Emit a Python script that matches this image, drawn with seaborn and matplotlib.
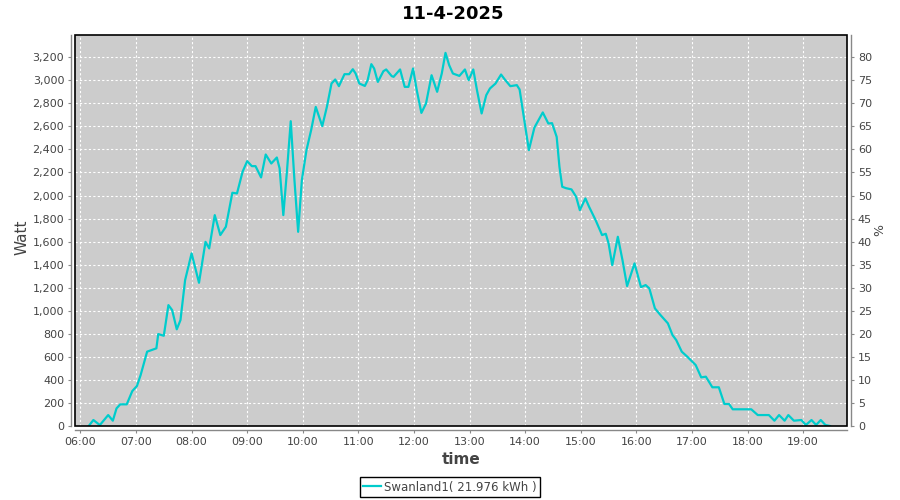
import matplotlib
matplotlib.use("Agg")
import matplotlib.pyplot as plt
import matplotlib.dates as mdates
from matplotlib.patches import Rectangle
from matplotlib.ticker import FuncFormatter, MultipleLocator
import seaborn as sns
import pandas as pd

day = "2025-04-11"
times = ["06:09", "06:14", "06:21", "06:30", "06:35", "06:39", "06:43", "06:50", "06:56", "07:01",
         "07:05", "07:12", "07:17", "07:22", "07:24", "07:30", "07:35", "07:39", "07:44", "07:48",
         "07:53", "08:00", "08:08", "08:15", "08:19", "08:25", "08:31", "08:37", "08:44", "08:49",
         "08:55", "09:00", "09:05", "09:09", "09:15", "09:20", "09:26", "09:32", "09:35", "09:39",
         "09:43", "09:47", "09:51", "09:55", "09:59", "10:04", "10:09", "10:14", "10:21", "10:26",
         "10:31", "10:35", "10:39", "10:45", "10:50", "10:54", "10:57", "11:01", "11:07", "11:10",
         "11:14", "11:17", "11:21", "11:27", "11:30", "11:36", "11:38", "11:45", "11:50", "11:54",
         "11:59", "12:03", "12:08", "12:13", "12:19", "12:25", "12:30", "12:34", "12:38", "12:42",
         "12:49", "12:55", "12:59", "13:04", "13:08", "13:13", "13:18", "13:22", "13:28", "13:34",
         "13:38", "13:44", "13:51", "13:54", "13:58", "14:04", "14:10", "14:19", "14:25", "14:29",
         "14:34", "14:37", "14:40", "14:44", "14:50", "14:55", "14:59", "15:05", "15:09", "15:16",
         "15:23", "15:27", "15:30", "15:34", "15:40", "15:45", "15:50", "15:58", "16:05", "16:10",
         "16:14", "16:20", "16:26", "16:34", "16:39", "16:43", "16:49", "16:55", "17:04", "17:10",
         "17:15", "17:22", "17:29", "17:35", "17:40", "17:44", "18:04", "18:11", "18:23", "18:29",
         "18:34", "18:40", "18:44", "18:50", "18:58", "19:03", "19:09", "19:14", "19:19", "19:24",
         "19:29"]
watt = [0, 52, 8, 95, 46, 153, 188, 188, 303, 347,
        442, 645, 659, 674, 798, 783, 1049, 1006, 839, 919,
        1266, 1498, 1243, 1598, 1541, 1830, 1657, 1729, 2024, 2018,
        2206, 2298, 2255, 2255, 2157, 2356, 2278, 2330, 2235, 1830,
        2220, 2645, 2134, 1685, 2134, 2394, 2567, 2769, 2602, 2769,
        2972, 3007, 2949, 3053, 3053, 3096, 3059, 2972, 2951, 3001,
        3140, 3102, 2986, 3079, 3094, 3036, 3030, 3094, 2943, 2943,
        3102, 2914, 2717, 2799, 3044, 2900, 3059, 3238, 3131, 3059,
        3038, 3094, 3001, 3094, 2914, 2712, 2871, 2929, 2972, 3050,
        3007, 2949, 2958, 2920, 2712, 2394, 2590, 2721, 2625, 2628,
        2509, 2249, 2076, 2064, 2053, 1989, 1873, 1975, 1902, 1787,
        1657, 1668, 1585, 1396, 1642, 1440, 1214, 1411, 1205, 1223,
        1194, 1021, 963, 891, 789, 746, 645, 601, 529, 422,
        428, 336, 336, 191, 191, 145, 145, 95, 95, 46,
        95, 46, 95, 46, 52, 9, 52, 9, 52, 9,
        0]
series_name = "Swanland1( 21.976 kWh )"

df = pd.DataFrame({"time": pd.to_datetime([day + " " + t for t in times]), "watt": watt})

grey = "#444444"
fig, ax = plt.subplots(figsize=(9, 5), dpi=100)
fig.subplots_adjust(left=75.3 / 900, right=846.7 / 900, top=1 - 35 / 500, bottom=1 - 426 / 500)
ax.set_facecolor("#cccccc")

sns.lineplot(data=df, x="time", y="watt", ax=ax, color="#00cccc", linewidth=1.6, label=series_name)

ax.set_xlim(pd.Timestamp(day + " 05:54:30"), pd.Timestamp(day + " 19:47:00"))
ax.set_ylim(0, 3393)
ax.xaxis.set_major_locator(mdates.HourLocator())
ax.xaxis.set_major_formatter(mdates.DateFormatter("%H:%M"))
ax.yaxis.set_major_locator(MultipleLocator(200))
ax.yaxis.set_major_formatter(FuncFormatter(lambda v, p: f"{int(v):,}"))
ax.grid(True, color="white", linestyle=(0, (2, 2)), linewidth=0.8)
ax.set_axisbelow(True)
ax.set_xlabel("")
ax.set_ylabel("")

ax2 = ax.twinx()
ax2.set_ylim(0, 3393 / 40)
ax2.yaxis.set_major_locator(MultipleLocator(5))

for a in (ax, ax2):
    for s in a.spines.values():
        s.set_visible(False)
    a.tick_params(colors="#888888", labelcolor=grey, labelsize=8, length=2.5, width=0.8, pad=2.5)
for side, a in (("left", ax), ("bottom", ax), ("right", ax2)):
    sp = a.spines[side]
    sp.set_visible(True)
    sp.set_position(("outward", 3))
    sp.set_color("#888888")
    sp.set_linewidth(1)

ax.add_patch(Rectangle((0, 0), 1, 1, transform=ax.transAxes, fill=False,
                       edgecolor="black", linewidth=1.2, clip_on=False, zorder=10))

fig.text(0.503, 1 - 14 / 500, "11-4-2025", ha="center", va="center", fontsize=13, fontweight="bold")
fig.text(22 / 900, 1 - 237 / 500, "Watt", rotation=90, ha="center", va="center", fontsize=11, color=grey)
fig.text(461 / 900, 1 - 460 / 500, "time", ha="center", va="center", fontsize=11, fontweight="bold", color=grey)
fig.text(880 / 900, 1 - 230 / 500, "%", rotation=90, ha="center", va="center", fontsize=9, color=grey)

leg = ax.legend(loc="center", bbox_to_anchor=(0.5, 1 - 487 / 500), bbox_transform=fig.transFigure,
                fancybox=False, edgecolor="black", framealpha=1, fontsize=8.5, handlelength=1.5,
                handletextpad=0.3, borderpad=0.3, borderaxespad=0)
leg.get_frame().set_linewidth(1)
for t in leg.get_texts():
    t.set_color(grey)

plt.savefig("out.png", dpi=100)
